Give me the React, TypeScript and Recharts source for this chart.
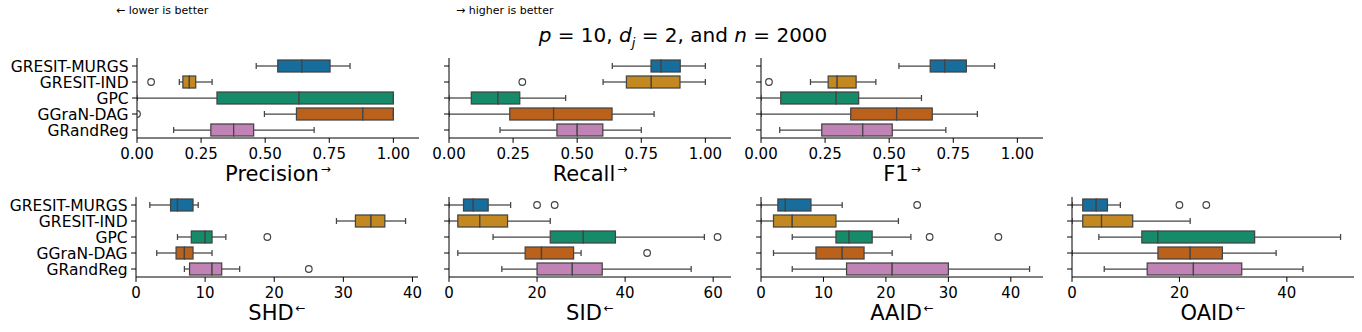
import { ComposedChart, Bar, Scatter, XAxis, YAxis } from 'recharts';

const methods = ['GRESIT-MURGS', 'GRESIT-IND', 'GPC', 'GGraN-DAG', 'GRandReg'];
const colors = ['#176d9c', '#c38820', '#168b6a', '#ba611b', '#c183b5'];

// five-number summaries per method: [whisker low, q1, median, q3, whisker high]
const precisionStats = [
  [0.465, 0.549, 0.643, 0.753, 0.831],
  [0.165, 0.179, 0.204, 0.229, 0.293],
  [0.0, 0.312, 0.632, 1.0, 1.0],
  [0.497, 0.622, 0.881, 1.0, 1.0],
  [0.143, 0.288, 0.377, 0.455, 0.691],
];
const precisionOutliers = [[], [0.055], [], [0.0], []];

const recallStats = [
  [0.637, 0.788, 0.827, 0.902, 1.0],
  [0.601, 0.692, 0.789, 0.901, 1.0],
  [0.0, 0.087, 0.191, 0.276, 0.455],
  [0.0, 0.237, 0.408, 0.636, 0.8],
  [0.199, 0.421, 0.5, 0.6, 0.75],
];
const recallOutliers = [[], [0.286], [], [], []];

const f1Stats = [
  [0.538, 0.66, 0.717, 0.801, 0.911],
  [0.193, 0.262, 0.297, 0.371, 0.448],
  [0.0, 0.077, 0.293, 0.381, 0.626],
  [0.0, 0.35, 0.529, 0.668, 0.844],
  [0.073, 0.237, 0.397, 0.512, 0.721],
];
const f1Outliers = [[], [0.031], [], [], []];

const shdStats = [
  [2, 5, 6, 8.25, 9],
  [29, 31.75, 34, 36, 39],
  [6, 8, 10, 11, 13],
  [3, 5.8, 7, 8.25, 11],
  [7, 7.75, 11, 12.4, 15],
];
const shdOutliers = [[], [], [19], [], [25]];

const sidStats = [
  [0, 3.3, 5.5, 8.9, 14],
  [0, 2, 7, 13.3, 23],
  [10, 23, 30.5, 37.8, 58],
  [2, 17.3, 21, 28.3, 30],
  [12, 20, 28, 34.8, 55],
];
const sidOutliers = [[20, 24], [], [61], [45], []];

const aaidStats = [
  [0, 2.7, 3.9, 8, 13],
  [0, 2, 5, 12, 22],
  [5, 12, 14.1, 17.8, 24],
  [2, 8.8, 13, 16.5, 21],
  [5, 13.7, 21, 30, 43],
];
const aaidOutliers = [[25], [], [27, 38], [], []];

const oaidStats = [
  [0, 2, 4.5, 6.6, 9],
  [0, 2, 5.5, 11.3, 22],
  [5, 13, 16, 34, 50],
  [0, 16, 22, 28, 38],
  [6, 14, 22.6, 31.6, 43],
];
const oaidOutliers = [[20, 25], [], [], [], []];

const FONT = 'DejaVu Sans, Verdana, sans-serif';
const EDGE = '#444444';

const Nothing = () => <g />;

const WhiskerLow = (p: any) => {
  const cy = p.y + p.height / 2;
  const cap = p.height / 4;
  return (
    <g>
      <line x1={p.x} x2={p.x + p.width} y1={cy} y2={cy} stroke={EDGE} strokeWidth={1.25} />
      <line x1={p.x} x2={p.x} y1={cy - cap} y2={cy + cap} stroke={EDGE} strokeWidth={1.25} />
    </g>
  );
};

const WhiskerHigh = (p: any) => {
  const cy = p.y + p.height / 2;
  const cap = p.height / 4;
  const xe = p.x + p.width;
  return (
    <g>
      <line x1={p.x} x2={xe} y1={cy} y2={cy} stroke={EDGE} strokeWidth={1.25} />
      <line x1={xe} x2={xe} y1={cy - cap} y2={cy + cap} stroke={EDGE} strokeWidth={1.25} />
    </g>
  );
};

const BoxHalf = (p: any) => (
  <rect x={p.x} y={p.y} width={p.width} height={p.height} fill={p.payload.color} stroke={EDGE} strokeWidth={1.25} />
);

const Outlier = (p: any) =>
  Number.isFinite(p.cx) && Number.isFinite(p.cy) ? (
    <circle cx={p.cx} cy={p.cy} r={3.3} fill="none" stroke={EDGE} strokeWidth={1.2} />
  ) : (
    <g />
  );

const AxisTitle = (props: any) => {
  const { viewBox, text, arrow } = props;
  if (!viewBox) return null;
  return (
    <text x={viewBox.x + viewBox.width / 2} y={viewBox.y + 43} textAnchor="middle" fontSize={21} fontFamily={FONT} fill="#000">
      {text}
      <tspan fontSize={12} dx={2} dy={-8}>{arrow}</tspan>
    </text>
  );
};

interface PanelProps {
  stats: number[][];
  outliers: number[][];
  domain: [number, number];
  ticks: number[];
  fmt: (v: number) => string;
  title: string;
  arrow: string;
  showLabels: boolean;
  left: number;
  top: number;
}

const PLOT_W = 282;
const PLOT_H = 80;

function BoxPanel({ stats, outliers, domain, ticks, fmt, title, arrow, showLabels, left, top }: PanelProps) {
  const data = methods.map((m, i) => {
    const [lo, q1, md, q3, hi] = stats[i];
    return {
      cat: m,
      base: lo,
      w1: q1 - lo,
      b1: md - q1,
      b2: q3 - md,
      w2: hi - q3,
      o1: outliers[i][0],
      o2: outliers[i][1],
      color: colors[i],
    };
  });
  const yw = showLabels ? 136 : 20;
  const mt = 4;
  const mr = 8;
  const xh = 60;
  return (
    <div style={{ position: 'absolute', left: left - yw, top: top - mt }}>
      <ComposedChart
        width={yw + PLOT_W + mr}
        height={mt + PLOT_H + xh}
        data={data}
        layout="vertical"
        margin={{ top: mt, right: mr, bottom: 0, left: 0 }}
        barSize={12}
      >
        <XAxis
          type="number"
          domain={domain}
          allowDataOverflow
          ticks={ticks}
          tickFormatter={fmt}
          height={xh}
          tickSize={4.9}
          tickMargin={5.5}
          stroke="#000"
          tick={{ fontSize: 15, fill: '#000', fontFamily: FONT }}
          label={<AxisTitle text={title} arrow={arrow} />}
        />
        <YAxis
          type="category"
          dataKey="cat"
          width={yw}
          tickSize={4.9}
          tickMargin={3.5}
          stroke="#000"
          interval={0}
          tick={showLabels ? { fontSize: 15.5, fill: '#000', fontFamily: FONT } : Nothing}
        />
        <Bar dataKey="base" stackId="s" shape={Nothing} isAnimationActive={false} />
        <Bar dataKey="w1" stackId="s" shape={WhiskerLow} isAnimationActive={false} />
        <Bar dataKey="b1" stackId="s" shape={BoxHalf} isAnimationActive={false} />
        <Bar dataKey="b2" stackId="s" shape={BoxHalf} isAnimationActive={false} />
        <Bar dataKey="w2" stackId="s" shape={WhiskerHigh} isAnimationActive={false} />
        <Scatter dataKey="o1" shape={Outlier} isAnimationActive={false} />
        <Scatter dataKey="o2" shape={Outlier} isAnimationActive={false} />
      </ComposedChart>
    </div>
  );
}

const frac = (v: number) => v.toFixed(2);
const int = (v: number) => String(v);
const unitTicks = [0, 0.25, 0.5, 0.75, 1.0];

export default function App() {
  return (
    <div style={{ position: 'absolute', left: 0, top: 0, width: 1362, height: 332, overflow: 'hidden', background: '#fff', fontFamily: FONT }}>
      <div style={{ position: 'absolute', left: 116, top: 4, fontSize: 11, whiteSpace: 'nowrap' }}>← lower is better</div>
      <div style={{ position: 'absolute', left: 456, top: 4, fontSize: 11, whiteSpace: 'nowrap' }}>→ higher is better</div>
      <div style={{ position: 'absolute', left: 683, top: 22, transform: 'translateX(-50%)', fontSize: 20, whiteSpace: 'nowrap', lineHeight: '26px' }}>
        <i>p</i> = 10, <i>d</i><sub style={{ fontSize: 13, fontStyle: 'italic', lineHeight: 0 }}>j</sub> = 2, and <i>n</i> = 2000
      </div>

      <BoxPanel stats={precisionStats} outliers={precisionOutliers} domain={[0, 1.1]} ticks={unitTicks} fmt={frac} title="Precision" arrow="→" showLabels left={137} top={58} />
      <BoxPanel stats={recallStats} outliers={recallOutliers} domain={[0, 1.1]} ticks={unitTicks} fmt={frac} title="Recall" arrow="→" showLabels={false} left={449} top={58} />
      <BoxPanel stats={f1Stats} outliers={f1Outliers} domain={[0, 1.1]} ticks={unitTicks} fmt={frac} title="F1" arrow="→" showLabels={false} left={761} top={58} />

      <BoxPanel stats={shdStats} outliers={shdOutliers} domain={[0, 40.8]} ticks={[0, 10, 20, 30, 40]} fmt={int} title="SHD" arrow="←" showLabels left={136} top={197} />
      <BoxPanel stats={sidStats} outliers={sidOutliers} domain={[0, 64.05]} ticks={[0, 20, 40, 60]} fmt={int} title="SID" arrow="←" showLabels={false} left={449} top={197} />
      <BoxPanel stats={aaidStats} outliers={aaidOutliers} domain={[0, 45.15]} ticks={[0, 10, 20, 30, 40]} fmt={int} title="AAID" arrow="←" showLabels={false} left={761} top={197} />
      <BoxPanel stats={oaidStats} outliers={oaidOutliers} domain={[0, 52.5]} ticks={[0, 20, 40]} fmt={int} title="OAID" arrow="←" showLabels={false} left={1072} top={197} />
    </div>
  );
}
